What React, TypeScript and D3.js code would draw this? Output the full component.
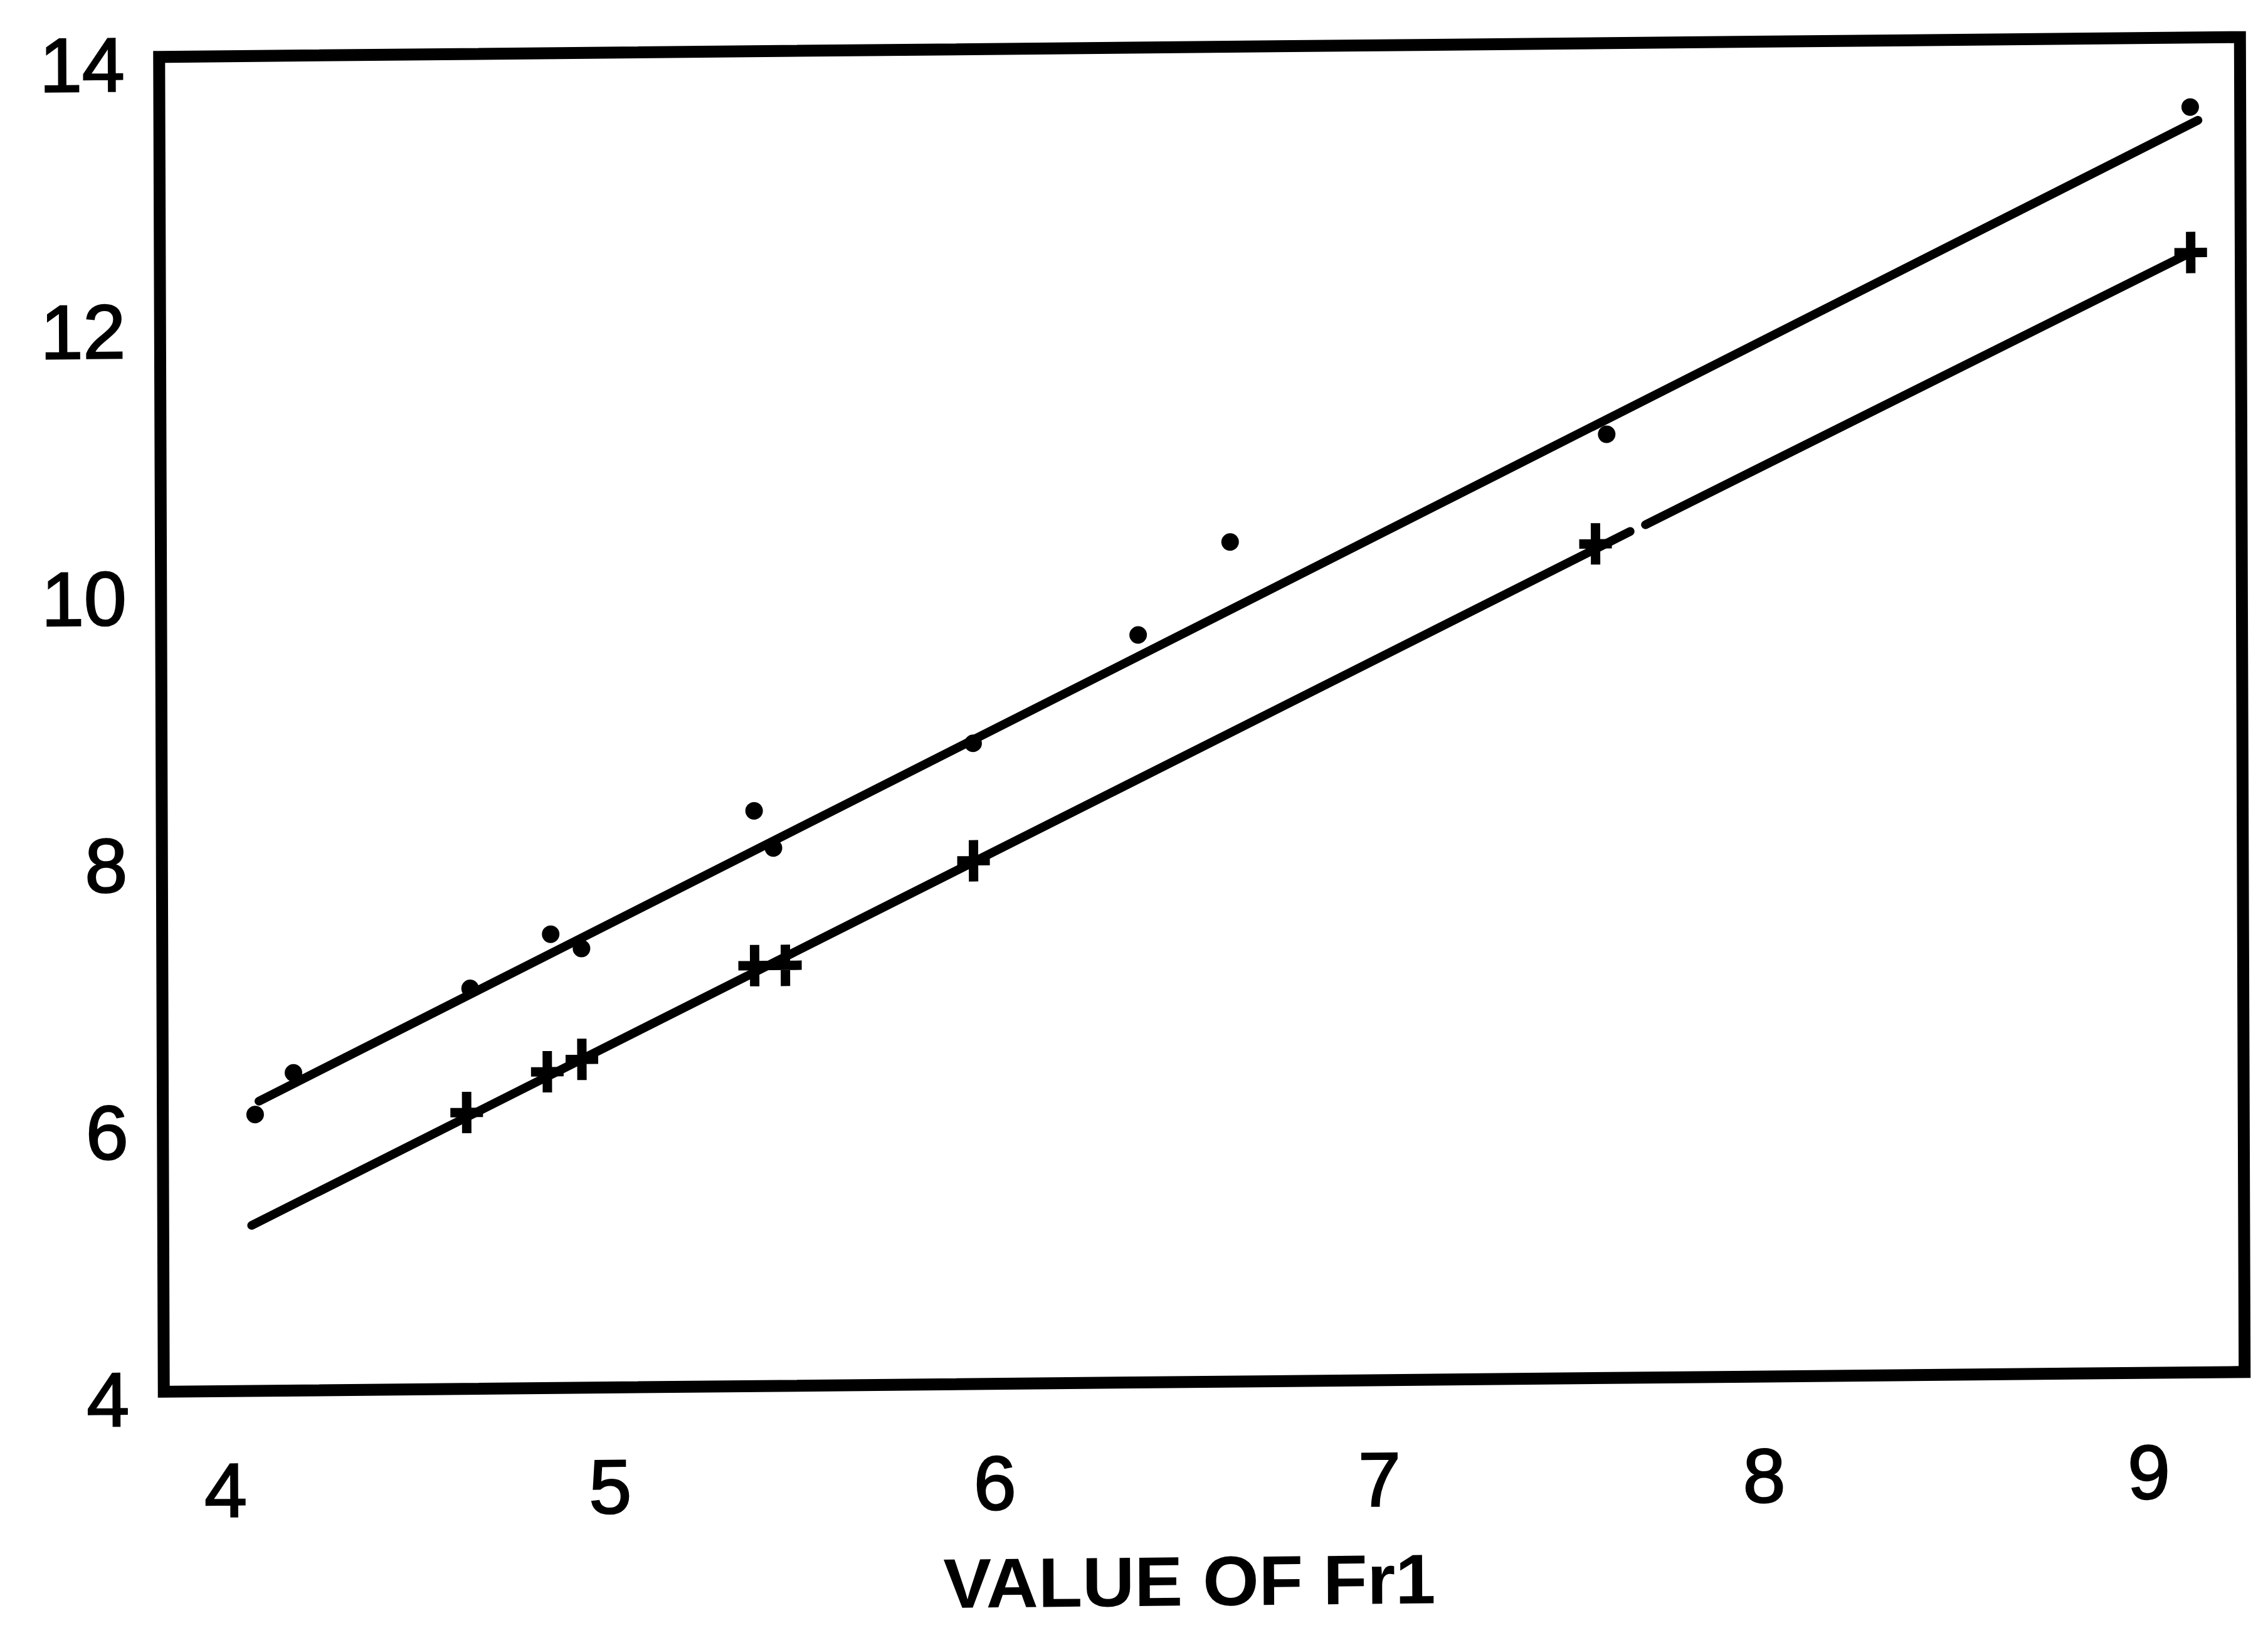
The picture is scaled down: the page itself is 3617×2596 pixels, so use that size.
import React from 'react';
import * as d3 from 'd3';

const W = 3617;
const H = 2596;

const xTicks = [4, 5, 6, 7, 8, 9];
const yTicks = [4, 6, 8, 10, 12, 14];
const xDomain = [3.84, 9.25];
const yDomain = [4, 14];
const xTitle = 'VALUE OF Fr1';

// points drawn as dots (upper line)
const dotX = [4.08, 4.18, 4.64, 4.85, 4.93, 5.38, 5.43, 5.95, 6.38, 6.62, 7.6, 9.12];
const dotY = [6.07, 6.38, 7.0, 7.4, 7.29, 8.31, 8.03, 8.8, 9.6, 10.29, 11.07, 13.48];

// points drawn as crosses (lower line)
const crossX = [4.63, 4.84, 4.93, 5.38, 5.46, 5.95, 7.57, 9.12];
const crossY = [6.07, 6.37, 6.46, 7.15, 7.15, 7.92, 10.25, 12.39];

// fitted lines, pieces as [x0, y0, x1, y1] (the lower one is broken in the print)
const upperFit = [[4.09, 6.17, 9.14, 13.38]];
const lowerFit = [[4.07, 5.24, 7.66, 10.34], [7.7, 10.39, 9.12, 12.39]];

// the scan is slightly rotated / sheared
const skewX = 0.0035;
const tilt = 0.0095;
const cx = 1915;
const cy = 1140;

export default function App() {
  const margin = { left: 257.5, right: 3576, top: 75, bottom: 2203.5 };

  const x = d3.scaleLinear().domain(xDomain).range([margin.left, margin.right]);
  const y = d3.scaleLinear().domain(yDomain).range([margin.bottom, margin.top]);

  const line = d3.line<number[]>()
    .x((d) => x(d[0]))
    .y((d) => y(d[1]));

  const fitPath = (pieces: number[][]) =>
    pieces.map((p) => line([[p[0], p[1]], [p[2], p[3]]])).join('');

  const dots = dotX.map((v, i) => ({ x: v, y: dotY[i] }));
  const crosses = crossX.map((v, i) => ({ x: v, y: crossY[i] }));

  const tickFont = {
    fontFamily: '"Liberation Sans", Arial, sans-serif',
    fontSize: 122,
    fill: '#000',
    stroke: '#000',
    strokeWidth: 2.5,
  };

  return (
    <svg
      width={W}
      height={H}
      viewBox={`0 0 ${W} ${H}`}
      style={{ position: 'absolute', left: 0, top: 0, background: '#fff' }}
    >
      <rect x={0} y={0} width={W} height={H} fill="#fff" />
      <g transform={`matrix(1, ${-tilt}, ${skewX}, 1, ${-skewX * cy}, ${tilt * cx})`}>
        {/* frame */}
        <rect
          x={margin.left}
          y={margin.top}
          width={margin.right - margin.left}
          height={margin.bottom - margin.top}
          fill="none"
          stroke="#000"
          strokeWidth={19}
        />

        {/* fitted lines */}
        <path d={fitPath(upperFit)} fill="none" stroke="#000" strokeWidth={14} strokeLinecap="round" />
        <path d={fitPath(lowerFit)} fill="none" stroke="#000" strokeWidth={14} strokeLinecap="round" />

        {/* points */}
        {dots.map((d, i) => (
          <circle key={`d${i}`} cx={x(d.x)} cy={y(d.y)} r={14} fill="#000" />
        ))}
        {crosses.map((d, i) => (
          <path
            key={`c${i}`}
            transform={`translate(${x(d.x)},${y(d.y)})`}
            d="M0,-33V33M-26,0H26"
            stroke="#000"
            strokeWidth={15}
            fill="none"
          />
        ))}

        {/* y tick labels */}
        {yTicks.map((t) => (
          <text key={`y${t}`} x={margin.left - 55} y={y(t) + 54} textAnchor="end" {...tickFont}>
            {t}
          </text>
        ))}

        {/* x tick labels */}
        {xTicks.map((t) => (
          <text key={`x${t}`} x={x(t)} y={2404} textAnchor="middle" {...tickFont}>
            {t}
          </text>
        ))}

        {/* x title */}
        <text
          x={1892}
          y={2560}
          textAnchor="middle"
          textLength={785}
          lengthAdjust="spacingAndGlyphs"
          fontFamily='"Liberation Sans", Arial, sans-serif'
          fontWeight="bold"
          fontSize={112}
          fill="#000"
        >
          {xTitle}
        </text>
      </g>
    </svg>
  );
}
